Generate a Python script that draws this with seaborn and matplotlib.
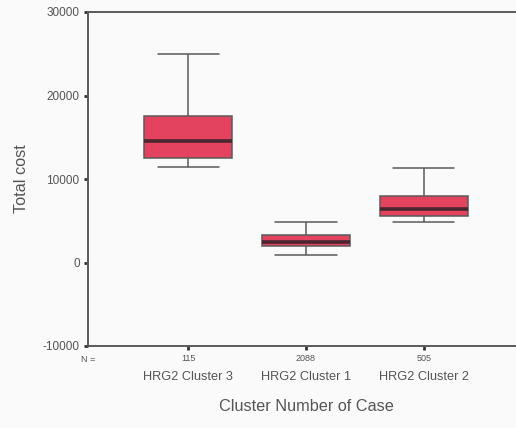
import matplotlib; matplotlib.use('Agg')
import pandas as pd
import seaborn as sns
import matplotlib.pyplot as plt
import matplotlib.transforms as mtransforms

# values
categories = ["HRG2 Cluster 3", "HRG2 Cluster 1", "HRG2 Cluster 2"]
n_cases = [115, 2088, 505]
whisker_low = [11400, 850, 4850]
q1 = [12500, 1950, 5550]
median = [14550, 2430, 6350]
q3 = [17600, 3250, 8000]
whisker_high = [25000, 4850, 11300]
y_ticks = [-10000, 0, 10000, 20000, 30000]

# five summary points per cluster; with whis=(0, 100) the boxplot reproduces them
rows = []
for i, cat in enumerate(categories):
    for v in [whisker_low[i], q1[i], median[i], q3[i], whisker_high[i]]:
        rows.append({"cluster": cat, "cost": v})
df = pd.DataFrame(rows)

sns.set_style("white")
plt.rcParams['font.family'] = ['Liberation Sans', 'DejaVu Sans']

bg = '#fafafa'
line_col = '#5a5a5a'
text_col = '#555555'

fig = plt.figure(figsize=(5.16, 4.28), dpi=100, facecolor=bg)
ax = fig.add_axes([88 / 516, 82 / 428, 436 / 516, 334 / 428], facecolor=bg)

sns.boxplot(data=df, x="cluster", y="cost", order=categories, whis=(0, 100),
            width=0.75, color='#e3435f', saturation=1, linecolor=line_col,
            linewidth=1.1, capwidths=0.52,
            medianprops={'color': '#4a2630', 'linewidth': 2.6},
            ax=ax)

ax.set_xlim(-0.85, 2.85)
ax.set_ylim(-10000, 30000)
ax.set_yticks(y_ticks)
ax.set_yticklabels([str(t) for t in y_ticks], fontsize=8.5, color=text_col)
ax.set_xticks(range(len(categories)))
ax.set_xticklabels([str(n) for n in n_cases], fontsize=6.5, color=text_col)
ax.tick_params(axis='both', direction='out', length=3, width=2, color='#333333',
               pad=3, bottom=True, left=True)

for s in ['left', 'bottom', 'top', 'right']:
    ax.spines[s].set_visible(True)
    ax.spines[s].set_color(line_col)
    ax.spines[s].set_linewidth(1.4)

trans = mtransforms.blended_transform_factory(ax.transData, ax.transAxes)
for i, cat in enumerate(categories):
    ax.text(i, -0.075, cat, transform=trans, ha='center', va='top',
            fontsize=9.2, color=text_col)
ax.text(-0.85, -0.028, "N =", transform=trans, ha='center', va='top',
        fontsize=6.5, color=text_col)

ax.set_xlabel("Cluster Number of Case", fontsize=11.7, color=text_col, labelpad=26)
ax.set_ylabel("Total cost", fontsize=11.7, color=text_col, labelpad=10)

fig.savefig("out.png", dpi=100, facecolor=bg)
